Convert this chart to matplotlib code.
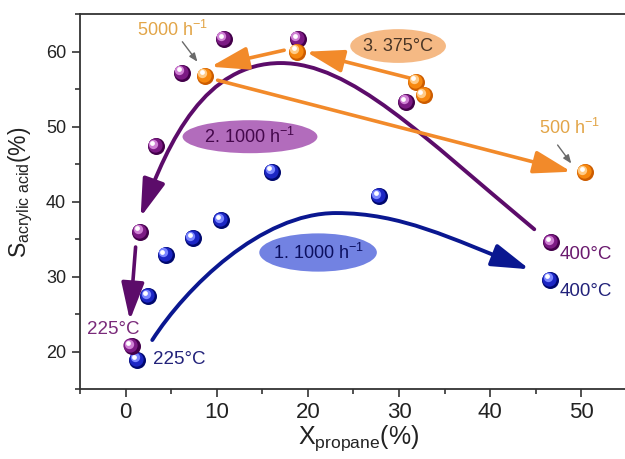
"""Selectividad a ácido acrílico vs conversión de propano"""

import matplotlib
matplotlib.use('Agg')
import matplotlib.pyplot as plt
import numpy as np
from matplotlib.patches import Ellipse, FancyArrowPatch
from matplotlib.path import Path
from matplotlib.ticker import MultipleLocator
from matplotlib.transforms import ScaledTranslation

plt.rcParams['font.family'] = 'Liberation Sans'
plt.rcParams['mathtext.fontset'] = 'custom'
plt.rcParams['mathtext.rm'] = 'Liberation Sans'
plt.rcParams['mathtext.it'] = 'Liberation Sans:italic'
plt.rcParams['mathtext.default'] = 'rm'

# serie 1 (azul): 1000 h-1
x_azul = [1.3, 2.5, 4.4, 7.4, 10.5, 16.1, 27.8, 46.6]
y_azul = [18.9, 27.4, 32.9, 35.1, 37.5, 44.0, 40.7, 29.6]
# serie 2 (morada): 1000 h-1
x_morado = [0.66, 1.6, 3.3, 6.2, 10.8, 18.9, 30.8, 46.7]
y_morado = [20.7, 36.0, 47.4, 57.2, 61.7, 61.7, 53.3, 34.6]
# serie 3 (naranja): 375 °C
x_naranja = [8.7, 18.8, 31.9, 32.7, 50.4]
y_naranja = [56.8, 60.0, 56.0, 54.2, 43.9]

# puntos de control (bezier cubica) de las flechas curvas
curva_azul_x = [2.93, 6.59, 14.84, 23.08, 30.22, 35.60, 44.32]
curva_azul_y = [21.56, 28.49, 38.49, 38.49, 38.49, 35.16, 30.99]
curva_morada_x = [44.84, 32.42, 24.73, 17.03, 8.79, 4.73, 1.65]
curva_morada_y = [36.33, 48.89, 58.49, 58.49, 58.49, 48.23, 37.96]

# flechas rectas: (x0, y0, x1, y1)
flecha_morada = (1.10, 33.96, 0.47, 24.2)
flechas_naranja = [
    (31.3, 56.45, 19.8, 60.0),
    (17.4, 60.2, 9.34, 58.0),
    (10.1, 56.2, 48.9, 44.0),
]
punteros = [(6.23, 61.33, 7.88, 58.67), (47.4, 47.56, 48.9, 45.1)]

AZUL = ('#00086e', '#1c26c4', '#7b86ff')
MORADO = ('#43004a', '#7c1a84', '#cf80d4')
NARANJA = ('#cc5c00', '#f7880f', '#ffcb86')

CABEZA = '-|>,head_length=2.3,head_width=0.7'

fig = plt.figure(figsize=(6.25, 4.59), dpi=100)
ax = fig.add_axes([0.128, 0.152, 0.875, 0.817])


def bolas(x, y, tonos, s=150, z=5):
    """Marcadores con aspecto de esfera (capas desplazadas)."""
    capas = [(1.0, 0.0, tonos[0]), (0.7, 0.8, tonos[1]),
             (0.3, 1.9, tonos[2]), (0.08, 2.4, 'white')]
    for f, d, c in capas:
        tr = ax.transData + ScaledTranslation(-d / 72, d / 72,
                                              fig.dpi_scale_trans)
        ax.scatter(x, y, s=s * f, color=c, lw=0, transform=tr, zorder=z)


def flecha_curva(xs, ys, color, lw=2.8):
    codes = [Path.MOVETO] + [Path.CURVE4] * (len(xs) - 1)
    path = Path(np.column_stack([xs, ys]), codes)
    ax.add_patch(FancyArrowPatch(path=path, arrowstyle=CABEZA,
                                 mutation_scale=10, color=color, lw=lw,
                                 zorder=3))


def flecha(x0, y0, x1, y1, color, lw=2.6, estilo=CABEZA, ms=10):
    ax.add_patch(FancyArrowPatch(
        (x0, y0), (x1, y1), arrowstyle=estilo, mutation_scale=ms,
        color=color, lw=lw, shrinkA=0, shrinkB=0, zorder=3))


flecha_curva(curva_azul_x, curva_azul_y, '#0a1790')
flecha_curva(curva_morada_x, curva_morada_y, '#5c0c6a')
flecha(*flecha_morada, '#5c0c6a')
for f in flechas_naranja:
    flecha(*f, '#f28a2a')
for p in punteros:
    flecha(*p, '#6a6a6a', lw=1.0, estilo='-|>,head_length=0.5,head_width=0.2')

bolas(x_azul, y_azul, AZUL)
bolas(x_morado, y_morado, MORADO)
bolas(x_naranja, y_naranja, NARANJA)

# etiquetas en elipses
for (cx, cy, w, h), fondo, txt, ctxt in [
        ((29.9, 60.76, 10.5, 4.5), '#f5b984', '3. 375°C', '#4a3626'),
        ((13.65, 48.67, 14.8, 4.4), '#b26cbc', '2. 1000 h$^{-1}$', '#45084c'),
        ((21.12, 33.23, 12.9, 5.1), '#7282e2', '1. 1000 h$^{-1}$', '#0c1060')]:
    ax.add_patch(Ellipse((cx, cy), w, h, facecolor=fondo, edgecolor='none',
                         zorder=4))
    ax.text(cx, cy, txt, ha='center', va='center', fontsize=13, color=ctxt,
            zorder=6)

ax.text(5.2, 62.96, '5000 h$^{-1}$', ha='center', va='center', fontsize=13,
        color='#e2a548')
ax.text(48.7, 49.9, '500 h$^{-1}$', ha='center', va='center', fontsize=13,
        color='#e2a548')
ax.text(-1.37, 22.96, '225°C', ha='center', va='center', fontsize=13.5,
        color='#7a2a7a')
ax.text(3.0, 19.0, '225°C', ha='left', va='center', fontsize=13.5,
        color='#22227a')
ax.text(47.6, 32.9, '400°C', ha='left', va='center', fontsize=13.5,
        color='#6a1a6e')
ax.text(47.6, 28.0, '400°C', ha='left', va='center', fontsize=13.5,
        color='#22227a')

ax.set_xlim(-5, 55)
ax.set_ylim(15, 65)
ax.xaxis.set_major_locator(MultipleLocator(10))
ax.xaxis.set_minor_locator(MultipleLocator(5))
ax.yaxis.set_major_locator(MultipleLocator(10))
ax.yaxis.set_minor_locator(MultipleLocator(5))
ax.tick_params(which='both', direction='out', width=1.2, colors='#333333')
ax.tick_params(which='major', length=6, pad=4)
ax.tick_params(which='minor', length=3.5)
ax.tick_params(axis='x', labelsize=16, labelcolor='#222222', pad=3)
ax.tick_params(axis='y', labelsize=13, labelcolor='#222222')
ax.spines['right'].set_visible(False)
for s in ('left', 'bottom', 'top'):
    ax.spines[s].set_linewidth(1.3)
    ax.spines[s].set_color('#333333')

ax.set_xlabel('X$_{propane}$(%)', fontsize=18, color='#222222')
ax.set_ylabel('S$_{acrylic\\ acid}$(%)', fontsize=16.5, color='#222222')
ax.xaxis.set_label_coords(0.51, -0.092)
ax.yaxis.set_label_coords(-0.082, 0.525)

fig.savefig('out.png', dpi=100)
